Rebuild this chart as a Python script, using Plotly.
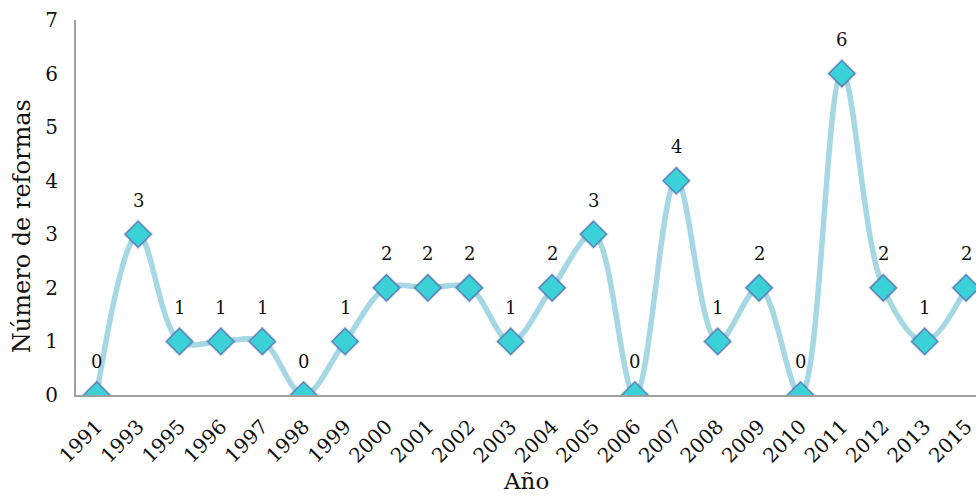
import plotly.graph_objects as go

years = ["1991", "1993", "1995", "1996", "1997", "1998", "1999", "2000", "2001", "2002",
         "2003", "2004", "2005", "2006", "2007", "2008", "2009", "2010", "2011", "2012",
         "2013", "2015"]
reformas = [0, 3, 1, 1, 1, 0, 1, 2, 2, 2, 1, 2, 3, 0, 4, 1, 2, 0, 6, 2, 1, 2]
y_ticks = [0, 1, 2, 3, 4, 5, 6, 7]

FONT = "DejaVu Serif"

fig = go.Figure()

# smoothed line
fig.add_trace(go.Scatter(
    x=years, y=reformas, mode="lines",
    line=dict(shape="spline", smoothing=1.0, color="#a5d7e5", width=5.5),
    hoverinfo="skip", showlegend=False,
))

# soft shadow beneath the markers
fig.add_trace(go.Scatter(
    x=years, y=reformas, mode="markers",
    marker=dict(symbol="diamond", size=24, color="rgba(0,0,0,0.10)", line=dict(width=0)),
    hoverinfo="skip", showlegend=False,
))

# diamond markers
fig.add_trace(go.Scatter(
    x=years, y=reformas, mode="markers",
    marker=dict(symbol="diamond", size=20, color="#3ad2d6",
                line=dict(color="#5a86c0", width=1.5)),
    showlegend=False,
))

# value labels above each point (x given as category index)
for i, v in enumerate(reformas):
    fig.add_annotation(x=i, y=v, xref="x", yref="y", text=str(v), showarrow=False,
                       yshift=34, font=dict(family=FONT, size=18, color="#111111"))

# y-axis title
fig.add_annotation(xref="paper", yref="paper", x=-0.060, y=0.45, xanchor="center", yanchor="middle",
                   text="Número de reformas", textangle=-90, showarrow=False,
                   font=dict(family=FONT, size=24, color="#111111"))

# x-axis title
fig.add_annotation(xref="paper", yref="paper", x=0.5, y=-0.228, xanchor="center", yanchor="middle",
                   text="Año", showarrow=False, borderpad=0,
                   font=dict(family=FONT, size=23, color="#111111"))

fig.update_layout(
    width=976, height=498,
    margin=dict(l=76, r=0, t=20, b=103),
    paper_bgcolor="white", plot_bgcolor="white",
    font=dict(family=FONT, color="#111111"),
    xaxis=dict(
        type="category", range=[-0.5, 21.24],
        tickangle=-45, tickfont=dict(size=20, family=FONT),
        showgrid=False, zeroline=False,
        showline=True, linecolor="#a0a0a0", linewidth=2,
        ticks="outside", ticklen=10, tickcolor="rgba(0,0,0,0)",
    ),
    yaxis=dict(
        range=[0, 7], tickvals=y_ticks,
        tickfont=dict(size=20, family=FONT),
        showgrid=False, zeroline=False,
        showline=True, linecolor="#a0a0a0", linewidth=2,
        ticks="outside", ticklen=12, tickcolor="rgba(0,0,0,0)",
    ),
)

fig.write_html("out.html")
